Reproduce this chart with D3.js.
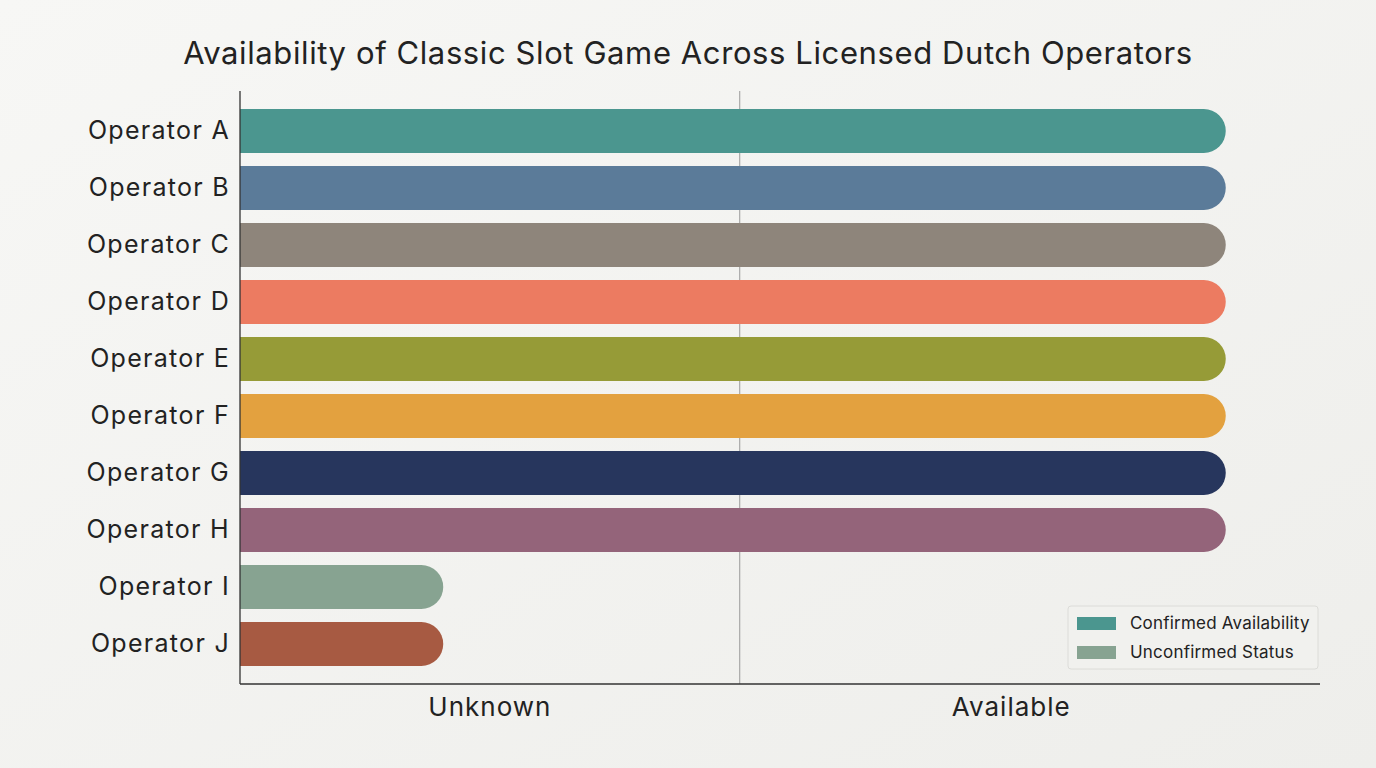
<!DOCTYPE html>
<html><head><meta charset="utf-8">
<script src="https://cdn.jsdelivr.net/npm/d3@7"></script>
<style>
html,body{margin:0;padding:0;background:#f2f2ef;}
svg{display:block;font-family:Inter,"Noto Sans",sans-serif;}
</style></head><body>
<svg id="c" width="1376" height="768"></svg>
<script>
const operators = ["Operator A","Operator B","Operator C","Operator D","Operator E","Operator F","Operator G","Operator H","Operator I","Operator J"];
const statusScore = [1.004,1.004,1.004,1.004,1.004,1.004,1.004,1.004,0.207,0.207];
const barColors = ["#4b968f","#5b7b99","#8e857b","#ec7b61","#969b37","#e3a13f","#27365d","#94647a","#87a391","#a75a42"];
const tickValues = [0.254, 0.785];
const tickLabels = ["Unknown","Available"];
const gridValue = 0.509;
const legendLabels = ["Confirmed Availability","Unconfirmed Status"];
const legendColors = ["#4b968f","#87a391"];
const title = "Availability of Classic Slot Game Across Licensed Dutch Operators";

(function(){
const svg = d3.select("#c");
const defs = svg.append("defs");
const bg = defs.append("linearGradient").attr("id","bg").attr("x1","0").attr("y1","0").attr("x2","1").attr("y2","1");
bg.append("stop").attr("offset","0").attr("stop-color","#f7f7f5");
bg.append("stop").attr("offset","1").attr("stop-color","#eeeeeb");
svg.append("rect").attr("width",1376).attr("height",768).attr("fill","url(#bg)");

const mL = 240, mR = 1320, mT = 91, mB = 684;
const x = d3.scaleLinear().domain([0,1.1]).range([mL,mR]);
const y = d3.scaleBand().domain(operators).range([102.5,672.5]).paddingInner(0.23).paddingOuter(0.115);

svg.append("text").attr("x",688).attr("y",64).attr("text-anchor","middle")
  .attr("font-size",31).attr("letter-spacing","0.6px").attr("fill","#222").text(title);

svg.append("line").attr("x1",x(gridValue)).attr("x2",x(gridValue)).attr("y1",mT).attr("y2",mB)
  .attr("stroke","#9a9a9a").attr("stroke-width",1);

const bh = y.bandwidth();
svg.append("g").selectAll("path").data(operators).join("path")
  .attr("fill",(d,i)=>barColors[i])
  .attr("d",(d,i)=>{
    const x0 = x(0), x1 = x(statusScore[i]), y0 = y(d), r = bh/2;
    return `M${x0},${y0}H${x1-r}A${r},${r} 0 0 1 ${x1-r},${y0+bh}H${x0}Z`;
  });

const ya = svg.append("g").attr("transform",`translate(${mL},0)`)
  .call(d3.axisLeft(y).tickSize(0).tickPadding(10));
ya.select(".domain").remove();
ya.selectAll("text").attr("font-size",25).attr("letter-spacing","1.3px").attr("fill","#222").style("font-family","Inter,'Noto Sans',sans-serif");
svg.append("line").attr("x1",mL).attr("x2",mL).attr("y1",mT).attr("y2",mB).attr("stroke","#333").attr("stroke-width",1.3);

const xa = svg.append("g").attr("transform",`translate(0,${mB})`)
  .call(d3.axisBottom(x).tickValues(tickValues).tickFormat((d,i)=>tickLabels[i]).tickSize(0).tickPadding(14));
xa.select(".domain").remove();
xa.selectAll("text").attr("font-size",26).attr("letter-spacing","1px").attr("fill","#222").style("font-family","Inter,'Noto Sans',sans-serif");
svg.append("line").attr("x1",mL).attr("x2",mR).attr("y1",mB).attr("y2",mB).attr("stroke","#333").attr("stroke-width",1.3);

const lg = svg.append("g").attr("transform","translate(1068,606)");
lg.append("rect").attr("width",250).attr("height",63).attr("rx",3).attr("fill","#f1f1ee").attr("stroke","#dcdcd8");
legendLabels.forEach((l,i)=>{
  lg.append("rect").attr("x",9).attr("y",11+i*29).attr("width",39).attr("height",13).attr("fill",legendColors[i]);
  lg.append("text").attr("x",62).attr("y",17.5+i*29).attr("dy","0.35em").attr("font-size",17).attr("letter-spacing","0.2px").attr("fill","#222").text(l);
});
})();
</script>
</body></html>
